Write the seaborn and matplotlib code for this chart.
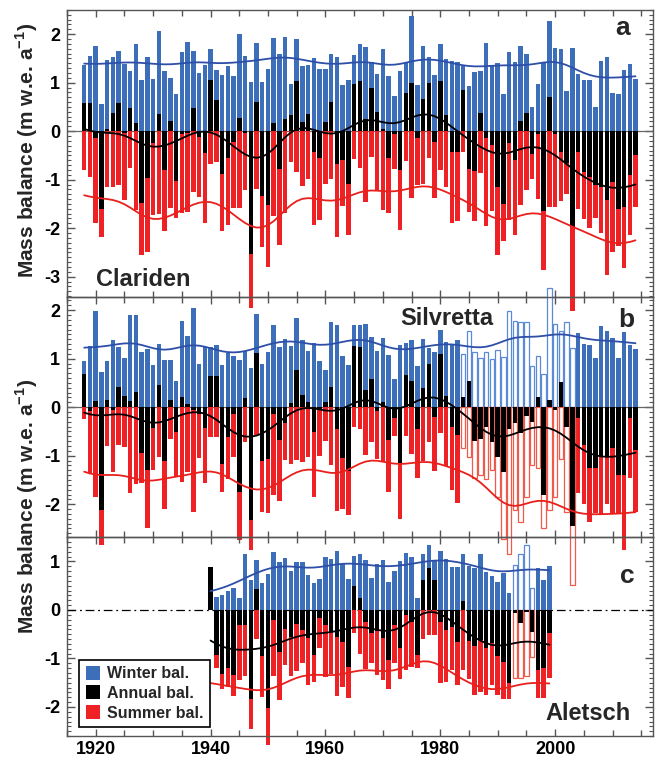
import numpy as np
import matplotlib

matplotlib.use("Agg")
import matplotlib.pyplot as plt
import seaborn as sns
from matplotlib.lines import Line2D
from matplotlib.ticker import MultipleLocator, FuncFormatter

# ---- data (m w.e. a-1) ----
clariden_years = list(range(1918, 2015))
clariden_winter = [
    1.37, 1.54, 1.75, 0.57, 1.47, 1.52, 1.66, 1.39, 1.25, 1.80,
    1.06, 1.52, 1.07, 2.07, 1.24, 1.10, 0.76, 1.63, 1.83, 1.65,
    1.19, 1.36, 1.70, 1.26, 1.15, 1.35, 1.14, 2.01, 1.55, 1.02,
    1.81, 1.02, 1.28, 1.92, 1.60, 1.95, 0.97, 1.90, 1.34, 1.36,
    1.51, 1.29, 1.29, 1.60, 1.53, 0.96, 1.05, 1.57, 1.79, 1.73,
    1.42, 1.18, 1.70, 1.13, 0.73, 1.24, 1.40, 2.37, 0.95, 1.75,
    1.53, 1.15, 1.79, 1.48, 1.44, 1.43, 1.34, 0.93, 1.22, 1.24,
    1.81, 1.36, 1.41, 0.76, 1.63, 1.43, 1.75, 1.60, 0.50, 0.97,
    1.40, 2.27, 1.72, 1.69, 0.83, 1.72, 1.17, 1.05, 1.05, 0.50,
    1.45, 1.53, 0.79, 0.76, 1.27, 1.38, 1.07,
]
clariden_annual = [
    0.58, 0.59, -0.15, -1.61, 0.04, 0.37, 0.58, -0.03, 0.48, 0.16,
    -1.49, -0.97, -0.25, 0.35, -0.80, 0.20, -1.03, -0.05, -0.03, 0.48,
    -0.12, -0.45, 1.05, 0.64, -0.89, -0.56, -0.22, 0.28, -0.03, -2.53,
    0.60, -1.34, -1.53, 0.17, -0.77, 0.26, 0.33, 1.04, 0.19, 0.36,
    -0.43, -0.56, 0.19, 0.60, -0.67, -0.60, -1.09, 0.97, 1.03, 0.26,
    0.88, 0.40, 0.05, -0.56, -0.05, -0.80, 0.78, 1.00, -0.14, 0.67,
    1.00, -0.22, 1.03, 0.33, -0.43, -0.43, 0.85, -0.77, -0.82, 0.37,
    -0.14, -0.29, -1.15, -1.50, -0.25, -0.60, 0.20, 0.38, -0.48, -0.05,
    -1.65, 0.71, -0.05, -0.43, -0.66, -1.97, -0.43, -0.84, -0.94, -1.11,
    -1.15, -1.42, -1.05, -1.60, -1.56, -0.90, -0.50,
]
clariden_summer = [
    -0.80, -0.94, -1.90, -2.19, -1.16, -1.15, -1.10, -1.41, -0.76, -1.63,
    -2.56, -2.49, -1.73, -1.71, -2.05, -1.58, -1.78, -1.68, -1.66, -1.25,
    -1.36, -1.90, -0.67, -0.63, -2.05, -1.94, -1.59, -1.59, -1.22, -3.65,
    -1.20, -2.38, -2.80, -1.75, -2.35, -1.68, -0.63, -0.84, -1.13, -0.98,
    -1.94, -1.84, -1.09, -0.98, -2.19, -1.55, -2.14, -0.58, -0.75, -1.46,
    -0.53, -1.22, -1.63, -1.68, -0.78, -2.04, -0.62, -1.37, -1.10, -1.08,
    -0.56, -1.37, -0.80, -1.15, -1.90, -1.86, -0.43, -1.66, -1.86, -0.87,
    -1.95, -1.65, -2.56, -2.26, -1.84, -2.14, -1.53, -1.22, -0.98, -1.40,
    -2.87, -1.56, -1.56, -1.44, -1.30, -3.70, -1.60, -1.81, -1.99, -1.80,
    -2.09, -2.97, -2.49, -2.36, -2.83, -2.14, -1.56,
]

silvretta_years = list(range(1918, 2015))
silvretta_winter = [
    0.95, 1.26, 1.98, 0.73, 0.96, 1.38, 1.24, 1.02, 1.90, 1.90,
    1.14, 1.19, 0.88, 1.31, 0.98, 0.97, 0.54, 1.78, 1.47, 2.05,
    0.90, 1.24, 1.24, 1.28, 0.87, 1.11, 1.06, 0.97, 1.15, 0.81,
    1.92, 0.90, 1.14, 1.69, 1.24, 1.40, 1.26, 1.84, 1.38, 1.15,
    1.33, 0.95, 0.76, 1.75, 1.69, 1.06, 0.87, 1.69, 1.70, 1.72,
    1.45, 1.16, 1.42, 1.07, 0.59, 1.29, 1.33, 1.38, 0.85, 1.40,
    1.23, 1.14, 1.59, 1.35, 1.30, 1.38, 1.10, 1.57, 1.13, 1.02,
    1.13, 0.99, 1.18, 1.04, 1.99, 1.78, 1.75, 1.76, 0.85, 1.06,
    0.69, 2.45, 1.72, 1.57, 1.76, 1.22, 1.52, 1.31, 1.29, 1.02,
    1.68, 1.57, 1.43, 1.02, 1.55, 1.28, 1.19,
]
silvretta_annual = [
    0.69, -0.08, 0.13, -2.11, 0.14, -0.06, 0.42, 0.23, 0.13, 0.31,
    -0.94, -1.30, -0.42, 0.45, -1.11, 0.14, -0.52, 0.21, 0.06, -0.06,
    -0.13, -0.43, 0.65, 0.65, -1.18, -0.61, -0.13, -1.75, 0.18, -2.33,
    1.12, -1.10, -1.06, -0.13, -0.68, -0.32, 0.08, 0.76, 0.26, 0.11,
    -0.51, -0.03, 0.11, 0.42, -0.44, -1.04, -1.32, 1.26, 1.24, 0.36,
    0.59, -0.08, 0.10, -0.68, -0.23, -1.16, 0.67, 0.54, -0.44, 0.40,
    0.89, -0.20, 1.10, 0.24, -0.40, -0.58, 0.21, 0.55, -0.69, -0.66,
    -0.41, -0.71, -1.03, -1.34, -0.44, -0.32, -0.53, -0.19, -0.30, 0.22,
    -1.82, 0.14, -0.05, 0.52, -0.41, -2.44, -0.23, -0.77, -1.26, -1.26,
    -1.00, -1.00, -0.85, -1.40, -1.40, -0.23, -0.89,
]
silvretta_summer = [
    -0.25, -1.35, -1.85, -2.85, -0.80, -1.33, -0.78, -0.82, -1.76, -1.59,
    -1.57, -2.50, -1.30, -1.02, -2.10, -0.65, -1.44, -1.55, -1.33, -2.16,
    -1.04, -1.57, -0.61, -0.61, -1.75, -1.47, -1.02, -2.73, -0.71, -2.95,
    -0.58, -2.16, -2.18, -1.81, -1.93, -1.08, -1.18, -1.08, -1.13, -1.02,
    -1.85, -1.00, -0.69, -1.20, -2.14, -2.10, -2.23, -0.41, -0.44, -0.99,
    -0.71, -1.06, -1.13, -1.75, -0.60, -2.30, -0.59, -0.96, -1.45, -1.11,
    -0.71, -1.31, -0.54, -1.21, -1.70, -1.97, -0.85, -1.02, -1.45, -1.40,
    -1.47, -1.30, -1.85, -2.71, -3.02, -2.11, -2.36, -1.85, -1.20, -1.26,
    -2.50, -2.12, -1.85, -1.06, -2.17, -3.67, -1.77, -1.99, -2.36, -2.18,
    -2.23, -1.99, -2.21, -2.20, -2.95, -1.46, -2.16,
]
silvretta_uncertain = list(range(1984, 2004))

aletsch_years = list(range(1940, 2000))
aletsch_winter = [
    np.nan, 0.26, 0.30, 0.39, 0.45, 0.24, 1.15, 0.62, 1.03, 0.55,
    0.74, 1.19, 0.98, 1.07, 0.80, 0.98, 0.98, 0.72, 0.55, 0.63,
    1.10, 1.05, 1.22, 0.94, 0.64, 1.11, 1.15, 1.03, 0.65, 0.95,
    1.04, 0.57, 0.81, 1.00, 1.18, 1.10, 0.24, 1.15, 1.34, 1.00,
    1.22, 1.05, 0.88, 0.89, 1.15, 0.91, 0.86, 1.15, 0.79, 0.71,
    0.58, 0.76, 0.34, 0.93, 1.15, 1.33, 0.45, 0.86, 0.62, 0.91,
]
aletsch_annual = [
    0.89, -0.93, -1.33, -1.20, -1.35, -0.31, -0.32, -1.84, 0.43, -0.95,
    -2.03, -0.21, -0.86, -0.39, -0.55, -0.29, -0.41, -0.58, -0.93, -0.16,
    -0.30, -0.45, -0.55, -0.67, -1.18, 0.49, 0.24, -0.24, -0.48, -0.43,
    -0.57, -1.03, -0.30, -0.79, -0.10, -0.25, -0.93, 0.62, 0.87, 0.62,
    -0.25, -0.41, -0.36, -0.66, 0.19, -0.63, -0.75, -0.62, -0.79, -0.69,
    -0.94, -1.08, -1.51, -0.07, -0.27, -0.05, -0.45, -1.24, -1.19, -0.48,
]
aletsch_summer = [
    np.nan, -1.20, -1.62, -1.58, -1.77, -1.44, -1.37, -2.46, -0.60, -1.79,
    -2.78, -1.37, -1.86, -1.13, -1.37, -1.25, -1.10, -1.55, -1.48, -0.79,
    -1.38, -1.33, -1.77, -1.59, -1.82, -0.48, -0.91, -1.22, -1.10, -1.35,
    -1.44, -1.62, -1.10, -1.43, -1.24, -1.17, -1.20, -0.60, -0.52, -0.52,
    -1.51, -1.48, -1.24, -1.55, -1.24, -1.43, -1.75, -1.70, -1.76, -1.55,
    -1.75, -1.83, -1.84, -1.41, -1.41, -1.36, -0.96, -1.82, -1.82, -1.41,
]
aletsch_uncertain = [1993, 1994, 1995, 1996]

BLUE = "#3D6EB9"
RED = "#EE2224"
BLUE_OPEN = "#5B8AD6"
RED_OPEN = "#F05A4A"
BLUE_LINE = "#2E4FA8"
RED_LINE = "#E8201C"
FRAME = "#555555"
BAR_W = 0.78

sns.set_theme(style="ticks")
plt.rcParams["font.family"] = ["Liberation Sans", "DejaVu Sans"]
plt.rcParams["font.weight"] = "bold"
plt.rcParams["axes.unicode_minus"] = False
plt.rcParams["mathtext.fontset"] = "custom"
plt.rcParams["mathtext.rm"] = "Liberation Sans:bold"
plt.rcParams["mathtext.bf"] = "Liberation Sans:bold"


def smooth(values, sigma=3.3):
    """Gaussian-weighted running mean, ignoring gaps and shrinking at the ends."""
    v = np.asarray(values, dtype=float)
    idx = np.arange(len(v))
    ok = ~np.isnan(v)
    vals = np.nan_to_num(v)
    out = np.empty(len(v))
    for i in idx:
        w = np.exp(-0.5 * ((idx - i) / sigma) ** 2) * ok
        out[i] = (w * vals).sum() / w.sum()
    return out


def draw_panel(ax, years, winter, annual, summer, uncertain=()):
    years = np.asarray(years)
    w = np.asarray(winter, dtype=float)
    a = np.asarray(annual, dtype=float)
    s = np.asarray(summer, dtype=float)
    unc = np.isin(years, uncertain)

    for vals, fill, edge in ((w, BLUE, BLUE_OPEN), (s, RED, RED_OPEN)):
        good = ~np.isnan(vals)
        ax.bar(years[good & ~unc], vals[good & ~unc], width=BAR_W, color=fill,
               linewidth=0, clip_on=False, zorder=2)
        ax.bar(years[good & unc], vals[good & unc], width=BAR_W, facecolor="white",
               edgecolor=edge, linewidth=0.9, clip_on=False, zorder=2)
    ax.bar(years, a, width=BAR_W, color="black", linewidth=0, clip_on=False, zorder=3)

    for vals, col in ((w, BLUE_LINE), (a, "black"), (s, RED_LINE)):
        sns.lineplot(x=years, y=smooth(vals), ax=ax, color=col, linewidth=1.3, zorder=4)


fig = plt.figure(figsize=(6.6, 7.62), dpi=100)
gs = fig.add_gridspec(3, 1, height_ratios=[5.92, 4.95, 4.1], hspace=0,
                      left=0.1015, right=0.989, top=0.987, bottom=0.034)
axes = [fig.add_subplot(gs[i]) for i in range(3)]
ylims = [(-3.42, 2.5), (-2.68, 2.27), (-2.6, 1.5)]

draw_panel(axes[0], clariden_years, clariden_winter, clariden_annual, clariden_summer)
draw_panel(axes[1], silvretta_years, silvretta_winter, silvretta_annual, silvretta_summer,
           silvretta_uncertain)
draw_panel(axes[2], aletsch_years, aletsch_winter, aletsch_annual, aletsch_summer,
           aletsch_uncertain)

for i, ax in enumerate(axes):
    ax.patch.set_visible(False)
    ax.set_xlim(1915, 2017)
    ax.set_ylim(*ylims[i])
    ax.set_xlabel("")
    ax.set_ylabel("")
    if i < 2:
        ax.axhline(0, color="#666666", linewidth=0.9, zorder=1)
    else:
        ax.axhline(0, color="black", linewidth=0.9, linestyle=(0, (7, 3, 1.5, 3)), zorder=1)
    ax.xaxis.set_major_locator(MultipleLocator(20))
    ax.xaxis.set_minor_locator(MultipleLocator(5))
    ax.yaxis.set_major_locator(MultipleLocator(1))
    ax.yaxis.set_minor_locator(MultipleLocator(0.1))
    ax.yaxis.set_major_formatter(FuncFormatter(lambda v, p: f"{int(round(v))}"))
    ax.tick_params(which="both", direction="in", top=True, right=True, color=FRAME,
                   labelsize=13, labelcolor="black")
    ax.tick_params(which="major", length=6, width=1.0)
    ax.tick_params(which="minor", length=3, width=0.8)
    ax.tick_params(axis="x", which="major", length=5)
    ax.tick_params(axis="x", which="minor", length=4, width=1.0)
    ax.tick_params(axis="y", pad=5)
    if i < 2:
        ax.tick_params(labelbottom=False)
    for sp in ax.spines.values():
        sp.set_color(FRAME)
        sp.set_linewidth(1.0)
        sp.set_visible(True)
    for lab in ax.get_xticklabels() + ax.get_yticklabels():
        lab.set_fontweight("bold")

axes[0].text(1928.2, -3.05, "Clariden", fontsize=17, fontweight="bold", ha="center", va="center")
axes[0].text(2011.8, 2.13, "a", fontsize=19, fontweight="bold", ha="center", va="center")
axes[1].text(1981.2, 1.83, "Silvretta", fontsize=17, fontweight="bold", ha="center", va="center")
axes[1].text(2012.4, 1.80, "b", fontsize=19, fontweight="bold", ha="center", va="center")
axes[2].text(2012.6, 0.70, "c", fontsize=19, fontweight="bold", ha="center", va="center")
axes[2].text(2005.8, -2.14, "Aletsch", fontsize=17, fontweight="bold", ha="center", va="center")

ylabel = r"Mass balance (m w.e. a$^{-1}$)"
fig.text(0.041, 0.803, ylabel, rotation=90, fontsize=15, fontweight="bold", ha="center", va="center")
fig.text(0.041, 0.335, ylabel, rotation=90, fontsize=15, fontweight="bold", ha="center", va="center")

handles = [
    Line2D([0], [0], marker="s", linestyle="none", markersize=10, markerfacecolor=BLUE,
           markeredgewidth=0),
    Line2D([0], [0], marker="s", linestyle="none", markersize=10, markerfacecolor="black",
           markeredgewidth=0),
    Line2D([0], [0], marker="s", linestyle="none", markersize=10, markerfacecolor=RED,
           markeredgewidth=0),
]
leg = axes[2].legend(handles, ["Winter bal.", "Annual bal.", "Summer bal."],
                     loc="lower left", bbox_to_anchor=(0.02, 0.045), borderaxespad=0,
                     frameon=True, fancybox=False, framealpha=1, edgecolor="black",
                     prop={"weight": "bold", "size": 11.5}, handlelength=1.0,
                     handletextpad=0.4, labelspacing=0.3, borderpad=0.4)
leg.get_frame().set_linewidth(1.2)
leg.set_zorder(6)

fig.savefig("out.png", dpi=100, facecolor="white")
